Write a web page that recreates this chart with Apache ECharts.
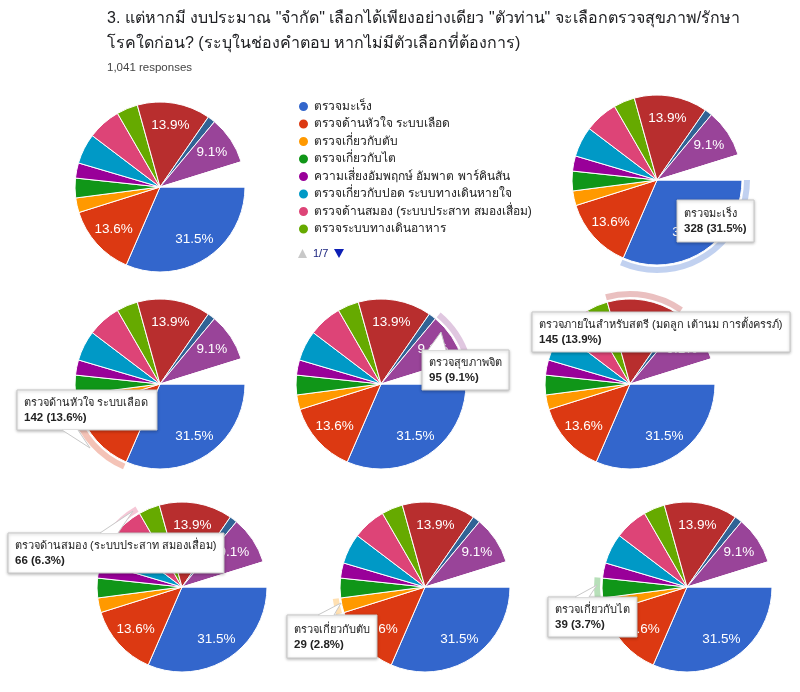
<!DOCTYPE html>
<html>
<head>
<meta charset="utf-8">
<script src="https://cdn.jsdelivr.net/npm/echarts@6/dist/echarts.min.js"></script>
<style>
html,body{margin:0;padding:0;background:#fff;}
#c{width:800px;height:692px;}
</style>
</head>
<body>
<div id="c"></div>
<script>
// ---- data ----
const titleLines = ['3. แต่หากมี งบประมาณ "จำกัด" เลือกได้เพียงอย่างเดียว "ตัวท่าน" จะเลือกตรวจสุขภาพ/รักษา', 'โรคใดก่อน? (ระบุในช่องคำตอบ หากไม่มีตัวเลือกที่ต้องการ)'];
const responsesText = '1,041 responses';
const categories = [
  'ตรวจมะเร็ง',
  'ตรวจด้านหัวใจ ระบบเลือด',
  'ตรวจเกี่ยวกับตับ',
  'ตรวจเกี่ยวกับไต',
  'ความเสี่ยงอัมพฤกษ์ อัมพาต พาร์คินสัน',
  'ตรวจเกี่ยวกับปอด ระบบทางเดินหายใจ',
  'ตรวจด้านสมอง (ระบบประสาท สมองเสื่อม)',
  'ตรวจระบบทางเดินอาหาร',
  'ตรวจภายในสำหรับสตรี (มดลูก เต้านม การตั้งครรภ์)',
  'ตัวเลือกที่ 10',
  'ตรวจสุขภาพจิต',
  'ตัวเลือกอื่น ๆ'
];
const counts = [328, 142, 29, 39, 30, 60, 66, 42, 145, 15, 95, 50];
const legendCount = 8;
const pageInfo = '1/7';
// hovered slice in each panel (-1 = none)
const hovered = [-1, 0, 1, 10, 8, 6, 2, 3];

// ---- style / layout ----
const palette = ['#3366cc','#dc3912','#ff9900','#109618','#990099','#0099c6','#dd4477','#66aa00','#b82e2e','#316395','#994499','#ffffff'];
const FONT = "Arial, 'Liberation Sans', 'Noto Sans', sans-serif";
const R = 85;
const panels = [
  {c:[160,187]},
  {c:[657,180], box:[677,200,72,42]},
  {c:[160,384], box:[17,390,140,40], tail:[[62,430],[78,430],[90,448]]},
  {c:[381,384], box:[422,350,86,40], tail:[[428,350],[446,350],[441,332]]},
  {c:[630,384], box:[532,312,256,40]},
  {c:[182,587], box:[8,533,207,40], tail:[[100,533],[118,533],[133,511]]},
  {c:[425,587], box:[287,615,74,43], tail:[[318,615],[334,615],[341,603]]},
  {c:[687,587], box:[548,597,86,40], tail:[[575,597],[589,597],[597,585]]}
];

const total = counts.reduce((a,b)=>a+b,0);
const pct = v => (v/total*100).toFixed(1);

const mctx = document.createElement('canvas').getContext('2d');
function textW(t, font){ mctx.font = font; return mctx.measureText(t).width; }

function hexA(hex, a){
  const n = parseInt(hex.slice(1),16);
  return 'rgba(' + (n>>16&255) + ',' + (n>>8&255) + ',' + (n&255) + ',' + a + ')';
}

const mainSeries = [], labelSeries = [], hiSeries = [], graphics = [];
panels.forEach((p, pi) => {
  const data = categories.map((n,i)=>({name:n, value:counts[i], itemStyle:{color:palette[i]}}));
  mainSeries.push({
    type:'pie', center:p.c, radius:[0,R], startAngle:0, clockwise:true,
    avoidLabelOverlap:false, silent:true, emphasis:{disabled:true},
    percentPrecision:1,
    itemStyle:{borderColor:'#fff', borderWidth:1},
    label:{show:false}, labelLine:{show:false},
    data:data, z:2
  });
  labelSeries.push({
    type:'pie', center:p.c, radius:[R*0.6,R*0.8], startAngle:0, clockwise:true,
    avoidLabelOverlap:false, silent:true, emphasis:{disabled:true},
    percentPrecision:1,
    itemStyle:{color:'rgba(0,0,0,0)', borderWidth:0},
    label:{show:true, position:'inside', color:'#fff', fontSize:13.5, fontFamily:FONT,
      formatter: prm => prm.percent >= 9 ? prm.percent.toFixed(1) + '%' : ''},
    labelLine:{show:false},
    data:categories.map((n,i)=>({name:n, value:counts[i]})), z:4
  });
  const h = hovered[pi];
  if (h >= 0) {
    hiSeries.push({
      type:'pie', center:p.c, radius:[R+2,R+8], startAngle:0, clockwise:true,
      avoidLabelOverlap:false, silent:true, emphasis:{disabled:true},
      label:{show:false}, labelLine:{show:false},
      data:categories.map((n,i)=>({name:n, value:counts[i],
        itemStyle:{color: i===h ? hexA(palette[i],0.3) : 'rgba(0,0,0,0)', borderWidth:0}})),
      z:3
    });
    const b = p.box;
    const f1 = '11px ' + FONT, f2 = 'bold 11.5px ' + FONT;
    const line1 = categories[h], line2 = counts[h]+' ('+pct(counts[h])+'%)';
    const w = Math.max(b[2], Math.ceil(Math.max(textW(line1,f1), textW(line2,f2))) + 14);
    graphics.push({type:'rect', z:100, shape:{x:b[0],y:b[1],width:w,height:b[3]},
      style:{fill:'#fff', stroke:'#c8c8c8', lineWidth:1, shadowBlur:3, shadowOffsetY:1, shadowColor:'rgba(0,0,0,0.25)'}});
    if (p.tail) {
      const t = p.tail;
      graphics.push({type:'polygon', z:101, shape:{points:t.map(q=>[q[0], q[1]])}, style:{fill:'#fff'}});
      graphics.push({type:'polyline', z:102, shape:{points:[t[0],t[2],t[1]]}, style:{stroke:'#c8c8c8', lineWidth:1, fill:null}});
    }
    const cy = b[1] + b[3]/2;
    graphics.push({type:'text', z:103, x:b[0]+7, y:cy-7, style:{text:line1, font:f1, fill:'#222', verticalAlign:'middle', textVerticalAlign:'middle'}});
    graphics.push({type:'text', z:103, x:b[0]+7, y:cy+8, style:{text:line2, font:f2, fill:'#222', verticalAlign:'middle', textVerticalAlign:'middle'}});
  }
});

// legend pager
graphics.push({type:'polygon', z:100, shape:{points:[[298,258],[307,258],[302.5,249]]}, style:{fill:'#c8c8c8'}});
graphics.push({type:'text', z:100, x:313, y:253.5, style:{text:pageInfo, font:'11px '+FONT, fill:'#1a237e', verticalAlign:'middle', textVerticalAlign:'middle'}});
graphics.push({type:'polygon', z:100, shape:{points:[[334,249],[344,249],[339,258]]}, style:{fill:'#0d1fb5'}});

const chart = echarts.init(document.getElementById('c'), null, {renderer:'canvas'});
chart.setOption({
  animation:false,
  backgroundColor:'#fff',
  title:[
    {text:titleLines.join('\n'), left:107, top:6, padding:0, textStyle:{fontSize:16, fontWeight:'normal', color:'#202124', lineHeight:25, fontFamily:FONT}},
    {text:responsesText, left:107, top:62, padding:0, textStyle:{fontSize:11.5, fontWeight:'normal', color:'#444', fontFamily:FONT}}
  ],
  legend:{
    data:categories.slice(0,legendCount), orient:'vertical', left:297, top:100, padding:0,
    icon:'circle', itemWidth:11, itemHeight:11, itemGap:4.5,
    textStyle:{fontSize:12, color:'#222', fontFamily:FONT}, selectedMode:false
  },
  series:[...mainSeries, ...hiSeries, ...labelSeries],
  graphic:{elements:graphics}
});
</script>
</body>
</html>
